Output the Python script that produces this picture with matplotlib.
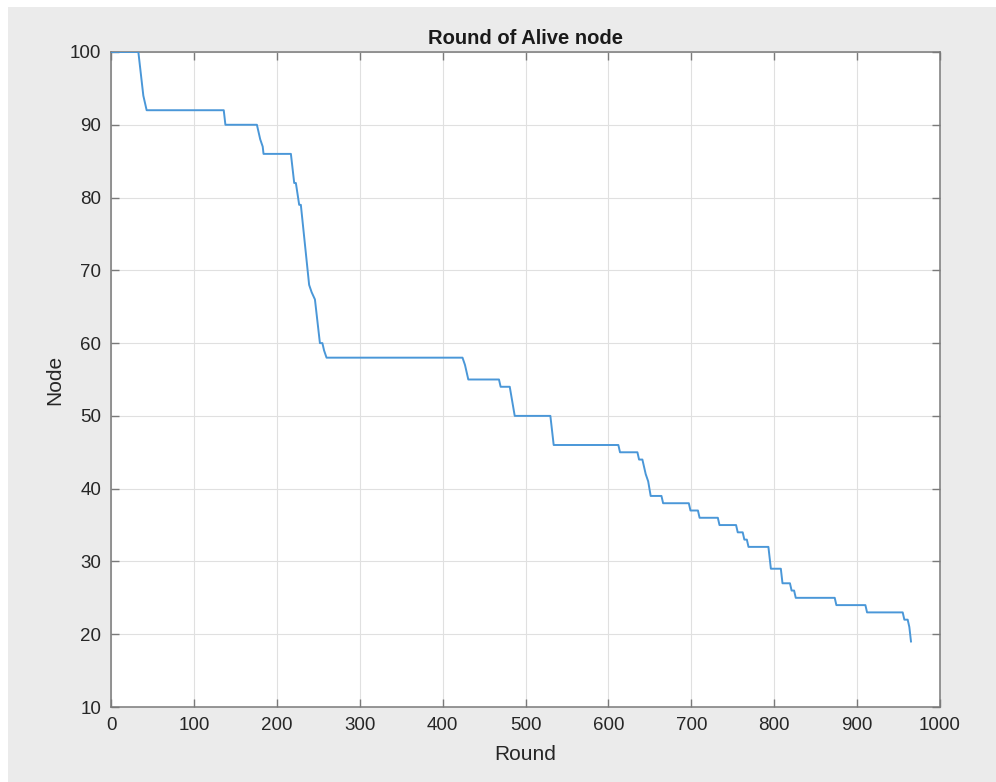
import matplotlib
matplotlib.use("Agg")
import matplotlib.pyplot as plt
from matplotlib.patches import Rectangle

plt.rcParams['font.family'] = ['Liberation Sans', 'DejaVu Sans']

# Vertices of the alive-node curve
rounds = [1, 33, 39, 43, 136, 138, 176, 178, 180, 183, 184, 217, 221, 223, 227, 229,
          239, 242, 246, 252, 255, 257, 260, 424, 427, 431, 468, 470, 481, 484, 487,
          530, 534, 612, 614, 635, 637, 641, 645, 648, 651, 664, 666, 697, 699, 708,
          710, 732, 734, 754, 756, 762, 764, 767, 769, 793, 796, 808, 810, 819, 821,
          824, 826, 873, 875, 910, 912, 955, 957, 961, 963, 965]
alive = [100, 100, 94, 92, 92, 90, 90, 89, 88, 87, 86, 86, 82, 82, 79, 79,
         68, 67, 66, 60, 60, 59, 58, 58, 57, 55, 55, 54, 54, 52, 50,
         50, 46, 46, 45, 45, 44, 44, 42, 41, 39, 39, 38, 38, 37, 37,
         36, 36, 35, 35, 34, 34, 33, 33, 32, 32, 29, 29, 27, 27, 26,
         26, 25, 25, 24, 24, 23, 23, 22, 22, 21, 19]

x_ticks = list(range(0, 1001, 100))
y_ticks = list(range(10, 101, 10))
title = "Round of Alive node"
x_label = "Round"
y_label = "Node"

W, H = 996, 782
fig = plt.figure(figsize=(W / 100, H / 100), dpi=100, facecolor='white')
fig.patches.append(Rectangle((8 / W, 0), 1 - 8 / W, 1 - 7 / H, transform=fig.transFigure,
                             facecolor='#ebebeb', edgecolor='none', zorder=-10))

ax = fig.add_axes([111 / W, (H - 707) / H, (940 - 111) / W, (707 - 52) / H])
ax.set_facecolor('white')
ax.plot(rounds, alive, color='#4a97d8', linewidth=1.4, zorder=3)

ax.set_xlim(0, 1000)
ax.set_ylim(10, 100)
ax.set_xticks(x_ticks)
ax.set_yticks(y_ticks)
ax.grid(True, color='#e0e0e0', linewidth=0.8)
ax.set_axisbelow(True)
for s in ax.spines.values():
    s.set_color('#7a7a7a')
    s.set_linewidth(1.1)
ax.tick_params(direction='in', length=6, width=1.0, color='#7a7a7a',
               top=True, right=True, labelsize=13.5, labelcolor='#262626', pad=7)

ax.set_title(title, fontsize=14.5, fontweight='bold', color='#1a1a1a', pad=6)
ax.set_xlabel(x_label, fontsize=15, color='#262626', labelpad=8)
ax.set_ylabel(y_label, fontsize=15, color='#262626', labelpad=4)

fig.savefig('out.png', dpi=100, facecolor=fig.get_facecolor())
